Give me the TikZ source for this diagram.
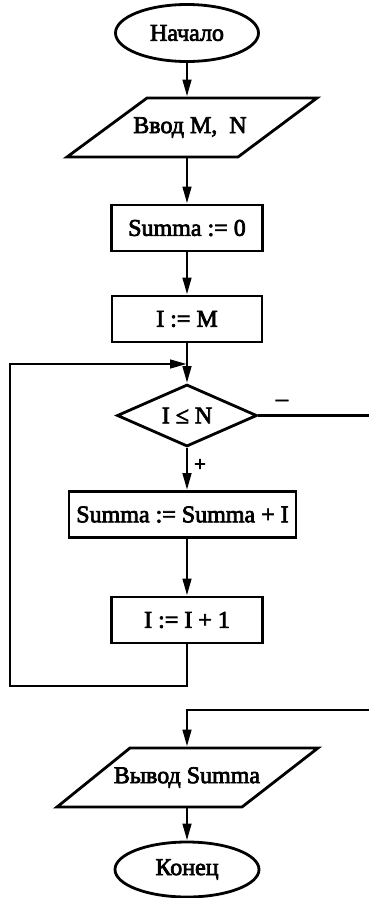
\documentclass[tikz,border=0pt]{standalone}
\usepackage{fontspec}
\setmainfont{Liberation Serif}
\newfontfamily\fbfont[FakeBold=3]{Liberation Serif}
\usetikzlibrary{arrows.meta,shapes.geometric,calc}
\begin{document}
\begin{tikzpicture}[x=1pt,y=-1pt,
  edge/.style={line width=2.8pt, line join=miter},
  arr/.style={line width=2.8pt, line join=miter, -{Triangle[length=17pt,width=8.5pt]}},
  txt/.style={font=\fbfont\fontsize{24}{28}\selectfont, inner sep=0pt},
  term/.style={txt, draw, line width=2.8pt, ellipse, minimum width=143pt, minimum height=57pt},
  proc/.style={txt, draw, line width=2.8pt, rectangle, minimum height=46pt},
  dec/.style={txt, draw, line width=2.8pt, diamond, aspect=2.26, minimum width=140pt, minimum height=62pt},
  io/.style={txt, minimum height=59pt, outer sep=1.4pt},
  small/.style={font=\fbfont\fontsize{21}{22}\selectfont, inner sep=0pt},
]
\useasboundingbox (0,0) rectangle (368,898);

% nodes
\node[term] (start) at (187,33) {Начало};
\node[io] (in) at (190,127.5) {Ввод M,\ \ N};
\draw[edge] (67,157) -- (147,98) -- (317,98) -- (238,157) -- cycle;
\node[proc, minimum width=151pt] (s0) at (187,228) {Summa := 0};
\node[proc, minimum width=150pt] (im) at (187,319) {I := M};
\node[dec] (cond) at (187,415.5) {I ≤ N};
\node[proc, minimum width=227pt] (add) at (182.5,514.5) {Summa := Summa + I};
\node[proc, minimum width=151pt] (inc) at (187,620) {I := I + 1};
\node[io] (out) at (187,777.5) {Вывод Summa};
\draw[edge] (57,807) -- (130,748) -- (318,748) -- (242,807) -- cycle;
\node[term, minimum width=144pt, minimum height=55pt] (end) at (187,869.5) {Конец};

% labels
\node[txt] (minus) at (282,403) {–};
\node[small] (plus) at (200,465) {+};

% helper coordinates
\coordinate (lb) at (10,686);
\coordinate (loopin) at (187,364);
\coordinate (rx) at (372,710);

% connectors
\draw[arr] (start.south) -- (start.south |- in.north);
\draw[arr] (in.south -| s0.north) -- (s0.north);
\draw[arr] (s0.south) -- (im.north);
\draw[arr] (im.south) -- (cond.north);
\draw[arr] (cond.south) -- (cond.south |- add.north);
\draw[arr] (add.south -| inc.north) -- (inc.north);
\draw[arr] (inc.south) |- (lb) |- (loopin);
\draw[arr] (cond.east) -| (rx) -| (out.north);
\draw[arr] (out.south -| end.north) -- (end.north);
\end{tikzpicture}
\end{document}
